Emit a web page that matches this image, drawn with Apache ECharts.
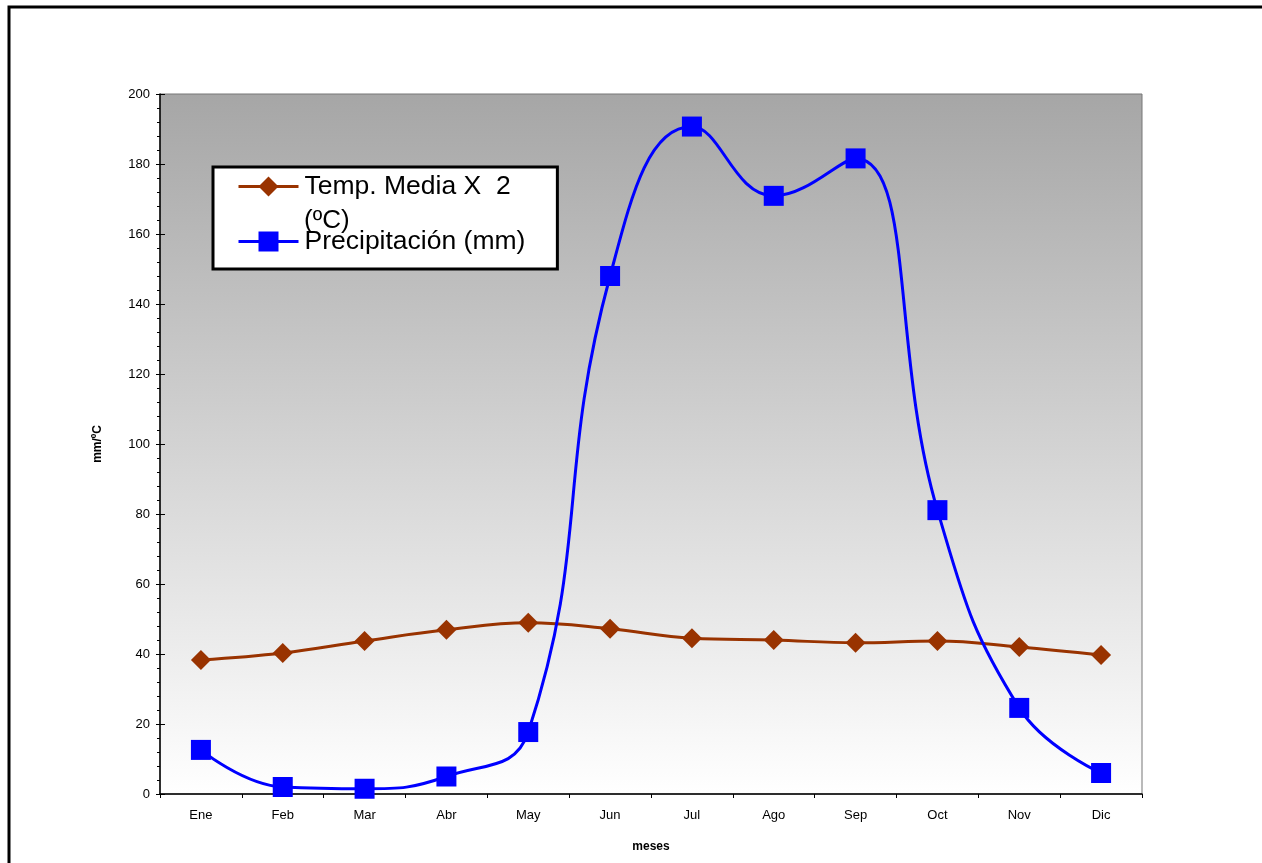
<!DOCTYPE html>
<html>
<head>
<meta charset="utf-8">
<script src="https://cdn.jsdelivr.net/npm/echarts@6/dist/echarts.min.js"></script>
<style>
html,body{margin:0;padding:0;background:#fff;}
#chart{width:1262px;height:863px;}
</style>
</head>
<body>
<div id="chart"></div>
<script>
const months = ['Ene','Feb','Mar','Abr','May','Jun','Jul','Ago','Sep','Oct','Nov','Dic'];
const tempX2 = [38.3, 40.3, 43.7, 46.9, 48.9, 47.2, 44.5, 44.0, 43.2, 43.7, 42.0, 39.7];
const precip = [12.6, 2.0, 1.5, 5.0, 17.7, 148.0, 190.7, 170.9, 181.6, 81.1, 24.6, 6.0];
const tempName = 'Temp. Media X  2';
const tempNameLine2 = '(ºC)';
const precipName = 'Precipitación (mm)';
const yAxisName = 'mm/ºC';
const xAxisName = 'meses';

const chart = echarts.init(document.getElementById('chart'));
const font = 'Arial, "Liberation Sans", sans-serif';
chart.setOption({
  animation: false,
  backgroundColor: '#ffffff',
  grid: {
    left: 160, right: 120, top: 94, bottom: 69,
    show: true,
    borderColor: '#777',
    borderWidth: 1,
    backgroundColor: {
      type: 'linear', x: 0, y: 0, x2: 0, y2: 1,
      colorStops: [{offset: 0, color: '#a6a6a6'}, {offset: 1, color: '#ffffff'}]
    }
  },
  legend: {
    orient: 'vertical',
    left: 213, top: 167,
    backgroundColor: '#ffffff',
    borderColor: '#000', borderWidth: 3,
    padding: [6, 32, 14, 24],
    itemWidth: 60, itemHeight: 25, itemGap: 28,
    lineStyle: {width: 3},
    textStyle: {fontFamily: font, fontSize: 26.5, color: '#000', lineHeight: 26, padding: [0, 0, 0, 1]},
    data: [tempName, precipName]
  },
  xAxis: {
    type: 'category',
    data: months,
    boundaryGap: true,
    name: xAxisName,
    nameLocation: 'middle',
    nameGap: 47,
    nameTextStyle: {fontFamily: font, fontSize: 12, fontWeight: 'bold', color: '#000'},
    axisLine: {lineStyle: {color: '#000', width: 1.5}},
    axisTick: {show: true, length: 4, lineStyle: {color: '#000'}},
    axisLabel: {fontFamily: font, fontSize: 13, color: '#000', margin: 15},
    splitLine: {show: false}
  },
  yAxis: [{
    type: 'value',
    min: 0, max: 200, interval: 20,
    name: yAxisName,
    nameLocation: 'middle',
    nameGap: 56,
    nameRotate: 90,
    nameTextStyle: {fontFamily: font, fontSize: 12, fontWeight: 'bold', color: '#000'},
    axisLine: {show: true, lineStyle: {color: '#000', width: 1.5}},
    axisTick: {show: true, length: 4, lineStyle: {color: '#000'}},
    minorTick: {show: true, splitNumber: 5, length: 3, lineStyle: {color: '#000'}},
    axisLabel: {fontFamily: font, fontSize: 13, color: '#000', margin: 10},
    splitLine: {show: false}
  }, {
    type: 'value',
    min: 0, max: 200, interval: 20,
    position: 'left',
    axisLine: {show: false},
    axisTick: {show: true, inside: true, length: 5, lineStyle: {color: '#000'}},
    axisLabel: {show: false},
    splitLine: {show: false}
  }],
  series: [{
    name: tempName,
    type: 'line',
    data: tempX2,
    smooth: 0.4,
    symbol: 'diamond',
    symbolSize: 20,
    lineStyle: {color: '#993300', width: 3},
    itemStyle: {color: '#993300'},
    z: 3
  }, {
    name: precipName,
    type: 'line',
    data: precip,
    smooth: 0.45,
    symbol: 'rect',
    symbolSize: 20,
    lineStyle: {color: '#0000ff', width: 3},
    itemStyle: {color: '#0000ff'},
    z: 4
  }],
  graphic: [{
    type: 'rect',
    shape: {x: 9, y: 7, width: 1400, height: 1000},
    style: {fill: null, stroke: '#000', lineWidth: 3},
    silent: true
  }, {
    type: 'text',
    left: 304, top: 208,
    z: 100,
    style: {text: tempNameLine2, font: '26px Arial, "Liberation Sans", sans-serif', fill: '#000'}
  }]
});
</script>
</body>
</html>
